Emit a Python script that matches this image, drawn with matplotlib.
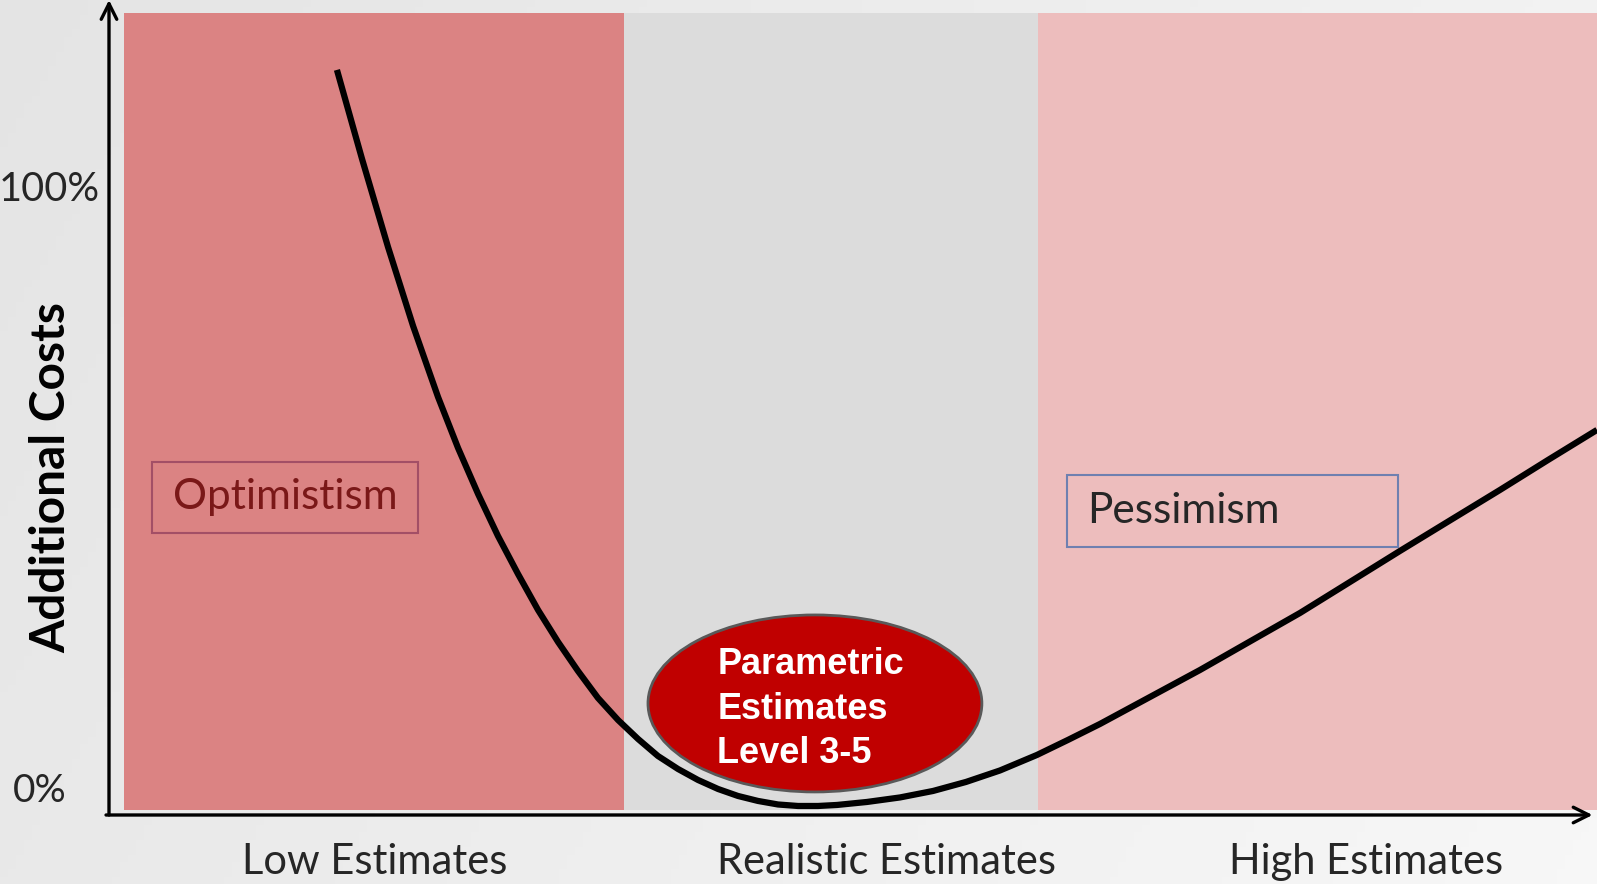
import numpy as np
import matplotlib
matplotlib.use("Agg")
import matplotlib.pyplot as plt
from matplotlib.patches import Ellipse, Rectangle
import matplotlib.transforms as mtransforms

# == chart values: x = estimate scale (0-100), y = additional costs (%)
curveX = [15.36, 17.05, 18.80, 20.49, 22.17, 23.52, 24.87, 26.21, 27.56, 28.91,
          30.26, 31.60, 32.95, 34.30, 35.65, 36.99, 38.34, 39.69, 41.04, 42.38,
          43.73, 45.08, 46.43, 47.78, 49.06, 51.08, 53.30, 55.53, 57.75, 60.04,
          62.53, 64.62, 66.78, 70.15, 73.52, 76.89, 80.26, 83.63, 86.99, 90.36,
          93.73, 96.97, 100.27]
curveY = [119.97, 105.16, 90.52, 77.37, 65.56, 57.07, 49.42, 42.43, 36.11, 30.12,
          24.79, 19.97, 15.47, 11.81, 8.65, 5.82, 3.66, 1.83, 0.33, -0.83,
          -1.66, -2.25, -2.50, -2.50, -2.33, -1.83, -1.08, 0.0, 1.50, 3.41,
          5.99, 8.49, 11.15, 15.64, 20.13, 24.88, 29.62, 34.78, 39.93, 45.01,
          50.08, 55.07, 60.07]
bandEdges = [1.0, 34.7, 62.6, 100.3]
bandColors = ["#db8383", "#dcdcdc", "#edbdbd"]
categoryPos = [17.9, 52.4, 84.7]
categoryLabels = ["Low Estimates", "Realistic Estimates", "High Estimates"]
costTicks = [0, 100]
costLabels = ["0%", "100%"]

W, H = 1597, 884
fig = plt.figure(figsize=(W / 100, H / 100), dpi=100)

# == soft gray gradient background (darker left, lighter right)
bg = fig.add_axes([0, 0, 1, 1])
gx, gy = np.meshgrid(np.linspace(0, 1, 200), np.linspace(0, 1, 120))
shade = 0.895 + 0.075 * (0.75 * gx + 0.25 * gy)
bg.imshow(np.dstack([shade] * 3), aspect="auto", extent=[0, 1, 0, 1],
          origin="upper")
bg.set_axis_off()

# == main axes (pixel-matched to the reference)
left = 109 / W
bottom = (H - 815) / H
ax = fig.add_axes([left, bottom, 1 - left, 1 - bottom])
ax.set_xlim(0, 100.27)
ax.set_ylim(-4.0, 131.6)
ax.patch.set_alpha(0)
for s in ax.spines.values():
    s.set_visible(False)

for i in range(3):
    ax.axvspan(bandEdges[i], bandEdges[i + 1], ymin=0.006, ymax=0.984,
               color=bandColors[i], lw=0, zorder=1)

ax.plot(curveX, curveY, color="black", lw=4.5, solid_joinstyle="round",
        solid_capstyle="butt", zorder=3)

# == axis arrows
arrow = dict(arrowstyle="->", lw=2.4, color="black", mutation_scale=28,
             shrinkA=0, shrinkB=0)
ax.annotate("", xy=(0, 1.0), xytext=(0, 0), xycoords="axes fraction",
            arrowprops=arrow, annotation_clip=False, zorder=5)
ax.annotate("", xy=(0.997, 0), xytext=(-0.002, 0), xycoords="axes fraction",
            arrowprops=arrow, annotation_clip=False, zorder=5)

# == ticks
ax.set_xticks(categoryPos)
ax.set_xticklabels(categoryLabels, fontsize=30, family="Lato", color="#262626")
ax.tick_params(axis="x", length=0, pad=20)
ax.set_yticks([])
trans = mtransforms.blended_transform_factory(ax.transAxes, ax.transData)
ax.text(-0.0287, costTicks[0], costLabels[0], transform=trans, ha="right",
        va="center", fontsize=28, family="Lato", color="#262626")
ax.text(-0.0060, costTicks[1], costLabels[1], transform=trans, ha="right",
        va="center", fontsize=28.5, family="Lato", color="#262626")

fig.text(51 / W, 1 - 478 / H, "Additional Costs", rotation=90, ha="center",
         va="center", fontsize=34.5, fontweight="bold", family="Lato",
         color="black")

# == zone labels
ax.add_patch(Rectangle((2.9, 42.9), 17.9, 11.8, fill=False, ec="#a34f66",
                       lw=1.5, zorder=2))
ax.text(11.86, 48.9, "Optimistism", ha="center", va="center", fontsize=30.5,
        family="Lato", color="#7a1818", zorder=2)
ax.add_patch(Rectangle((64.56, 40.6), 22.3, 12.0, fill=False, ec="#6f80b0",
                       lw=1.5, zorder=2))
ax.text(65.9, 46.6, "Pessimism", ha="left", va="center", fontsize=30.5,
        family="Lato", color="#262626", zorder=2)

# == highlighted realistic zone
ax.add_patch(Ellipse((47.57, 14.56), 22.5, 29.45, fc="#c00000", ec="#595959",
                     lw=2, zorder=4))
ax.text(40.98, 13.6, "Parametric\nEstimates\nLevel 3-5", ha="left", va="center",
        fontsize=26, fontweight="bold", family="Liberation Sans", color="white",
        linespacing=1.35, zorder=5)

fig.savefig("out.png", dpi=100)
